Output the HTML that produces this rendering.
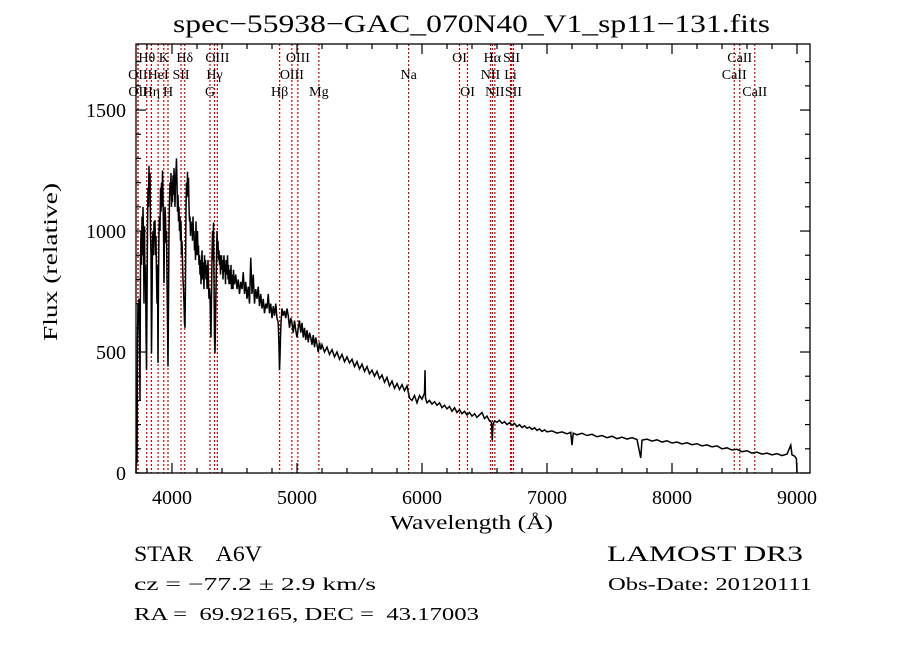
<!DOCTYPE html>
<html><head><meta charset="utf-8"><style>
html,body{margin:0;padding:0;background:#fff;width:900px;height:649px;overflow:hidden}
svg{display:block;font-family:"Liberation Serif","DejaVu Serif",serif}
text{white-space:pre}
</style></head><body>
<svg id="chart" width="900" height="649" viewBox="0 0 900 649" xmlns="http://www.w3.org/2000/svg" xml:space="preserve">
<text x="173" y="32" font-size="25" textLength="597" lengthAdjust="spacingAndGlyphs">spec−55938−GAC_070N40_V1_sp11−131.fits</text>
<g id="lines"></g>
<g id="labels"></g>
<path id="spec" fill="none" stroke="#000" stroke-width="1.5"/>
<g id="ticks"></g>
<rect x="136" y="44" width="674" height="429" fill="none" stroke="#000" stroke-width="1.3"/>
<text x="390" y="529" font-size="20" textLength="163" lengthAdjust="spacingAndGlyphs">Wavelength (Å)</text>
<text transform="translate(57,341) rotate(-90)" font-size="20" textLength="158" lengthAdjust="spacingAndGlyphs">Flux (relative)</text>
<text x="134" y="561" font-size="22" textLength="128" lengthAdjust="spacingAndGlyphs">STAR    A6V</text>
<text x="607" y="561" font-size="22" textLength="196" lengthAdjust="spacingAndGlyphs">LAMOST DR3</text>
<text x="134" y="590" font-size="18" textLength="242" lengthAdjust="spacingAndGlyphs">cz = −77.2 ± 2.9 km/s</text>
<text x="608" y="590" font-size="18" textLength="204" lengthAdjust="spacingAndGlyphs">Obs-Date: 20120111</text>
<text x="134" y="620" font-size="18" textLength="345" lengthAdjust="spacingAndGlyphs">RA =  69.92165, DEC =  43.17003</text>
</svg>
<script>
const wavelengths=[3712,3716,3720,3724,3728,3732,3736,3740,3744,3748,3752,3756,3760,3764,3768,3772,3776,3780,3784,3788,3792,3796,3800,3804,3808,3812,3816,3820,3824,3828,3832,3836,3840,3844,3848,3852,3856,3860,3864,3868,3872,3876,3880,3884,3888,3892,3896,3900,3904,3908,3912,3916,3920,3924,3928,3932,3936,3940,3944,3948,3952,3956,3960,3964,3968,3972,3976,3980,3984,3988,3992,3996,4000,4004,4008,4012,4016,4020,4024,4028,4032,4036,4040,4044,4048,4052,4056,4060,4064,4068,4072,4076,4080,4084,4088,4092,4096,4100,4104,4108,4112,4116,4120,4124,4128,4132,4136,4140,4144,4148,4152,4156,4160,4164,4168,4172,4176,4180,4184,4188,4192,4196,4200,4204,4208,4212,4216,4220,4224,4228,4232,4236,4240,4244,4248,4252,4256,4260,4264,4268,4272,4276,4280,4284,4288,4292,4296,4300,4304,4308,4312,4316,4320,4324,4328,4332,4336,4340,4344,4348,4352,4356,4360,4364,4368,4372,4376,4380,4384,4388,4392,4396,4400,4404,4408,4412,4416,4420,4424,4428,4432,4436,4440,4444,4448,4452,4456,4460,4464,4468,4472,4476,4480,4484,4488,4492,4496,4500,4510,4520,4530,4540,4550,4560,4570,4580,4590,4600,4610,4620,4630,4640,4650,4660,4670,4680,4690,4700,4710,4720,4730,4740,4750,4760,4770,4780,4790,4800,4810,4820,4830,4840,4850,4856,4860,4864,4868,4872,4880,4890,4900,4910,4920,4930,4940,4950,4960,4970,4980,4990,5000,5010,5020,5030,5040,5050,5060,5070,5080,5090,5100,5110,5120,5130,5140,5150,5160,5170,5180,5190,5200,5220,5240,5260,5280,5300,5320,5340,5360,5380,5400,5420,5440,5460,5480,5500,5520,5540,5560,5580,5600,5620,5640,5660,5680,5700,5720,5740,5760,5780,5800,5820,5840,5860,5880,5900,5920,5940,5960,5980,6000,6020,6024,6028,6040,6060,6080,6100,6120,6140,6160,6180,6200,6220,6240,6260,6280,6300,6320,6340,6360,6380,6400,6420,6440,6460,6480,6500,6520,6540,6556,6562,6568,6580,6600,6620,6640,6660,6680,6700,6720,6740,6760,6780,6800,6820,6840,6860,6880,6900,6920,6940,6960,6980,7000,7040,7080,7120,7160,7190,7200,7210,7240,7280,7320,7360,7400,7440,7480,7520,7560,7600,7640,7680,7720,7750,7760,7800,7840,7880,7920,7960,8000,8040,8080,8120,8160,8200,8240,8280,8320,8360,8400,8440,8480,8520,8560,8600,8640,8680,8720,8760,8800,8840,8880,8920,8950,8960,8980,8995,9000];
const fluxes=[0,150,40,550,700,620,720,560,300,880,1000,860,1060,900,1100,980,700,1020,780,860,600,425,700,1000,1180,1100,1270,1150,1240,1000,900,495,700,960,1000,900,1040,960,1045,900,980,820,700,860,455,800,1000,1060,1000,1180,1080,1200,1100,1250,1150,1000,785,1000,1100,1060,950,1000,800,620,440,700,1000,1120,1200,1150,1240,1100,1200,1120,1230,1150,1260,1180,1100,1200,1250,1300,1200,1080,1150,1040,1100,1000,1060,960,1040,900,960,880,800,760,700,620,600,800,1100,1200,1140,1245,1150,1220,1100,1040,1060,980,1040,1000,1030,960,1060,980,1000,920,960,880,1040,900,960,1000,900,940,860,900,820,880,780,860,920,800,870,820,760,900,830,880,800,860,760,820,880,780,720,760,730,640,560,730,900,1000,880,1035,800,560,495,620,760,880,1000,940,960,880,920,860,900,820,870,900,840,880,800,860,900,830,860,780,880,820,840,900,800,860,780,840,820,780,860,760,800,820,760,840,800,780,820,760,800,740,790,760,830,740,790,720,770,700,890,740,820,700,760,720,770,690,740,680,720,660,700,680,740,660,700,640,690,650,700,640,620,520,425,480,560,620,680,650,670,640,680,650,600,640,620,580,630,590,560,600,630,580,620,560,600,550,590,540,580,560,530,570,520,560,530,500,540,510,530,500,520,490,510,480,500,470,490,460,480,455,470,440,460,430,450,420,440,410,425,400,420,390,405,375,395,360,380,350,370,345,365,340,360,310,300,320,290,320,305,330,425,310,290,300,285,295,280,290,270,280,265,275,255,270,250,262,245,255,240,250,235,245,230,240,250,225,235,215,210,136,200,215,210,218,205,212,200,208,198,205,192,200,188,195,185,190,180,187,176,182,172,178,170,174,165,170,162,168,115,165,158,164,155,160,150,155,146,152,142,148,140,146,138,62,136,140,132,137,128,133,124,128,120,125,117,121,112,116,108,112,100,104,95,98,88,92,82,86,78,82,75,80,72,78,115,75,70,60,0];
const lineWaves=[3727,3729,3798,3835,3889,3934,3968,4072,4102,4304,4340,4363,4861,4959,5007,5175,5893,6300,6364,6548,6563,6583,6708,6716,6731,8498,8542,8662];
const lineNames=["OII","OII","Hθ","Hη","HeI","K","H","SII","Hδ","G","Hγ","OIII","Hβ","OIII","OIII","Mg","Na","OI","OI","NII","Hα","NII","Li","SII","SII","CaII","CaII","CaII"];
const lineRows=[2,3,1,3,2,1,3,2,1,3,2,1,3,2,1,3,2,1,3,2,1,3,2,1,3,2,1,3];
const xTickLabels=[4000,5000,6000,7000,8000,9000];
const yTickLabels=[0,500,1000,1500];

const NS="http://www.w3.org/2000/svg";
const L=136,R=810,T=44,B=473,XMIN=3712,XMAX=9104,YMIN=0,YMAX=1773;
const xs=w=>L+(w-XMIN)/(XMAX-XMIN)*(R-L);
const ys=v=>B-(v-YMIN)/(YMAX-YMIN)*(B-T);
function mk(tag,at,parent){const e=document.createElementNS(NS,tag);for(const k in at)e.setAttribute(k,at[k]);parent.appendChild(e);return e;}

let d="";
for(let i=0;i<wavelengths.length;i++){d+=(i?"L":"M")+xs(wavelengths[i]).toFixed(2)+","+Math.min(B,ys(fluxes[i])).toFixed(2);}
document.getElementById("spec").setAttribute("d",d);

const lg=document.getElementById("lines"),lb=document.getElementById("labels");
const rowY=[0,62,79,96];
for(let i=0;i<lineWaves.length;i++){
  const x=xs(lineWaves[i]);
  const ln=mk("line",{x1:x,x2:x,y1:T,y2:B,stroke:"#cc0000","stroke-width":1.2,"stroke-dasharray":"2,2"},lg);
  
  
  const t=mk("text",{x:x,y:rowY[lineRows[i]],"text-anchor":"middle","font-size":14},lb);
  t.textContent=lineNames[i];
  
  
}

const tg=document.getElementById("ticks");
for(let w=3800;w<=9100;w+=200){
  const x=xs(w),len=(w%1000===0)?10:5;
  const a=mk("line",{x1:x,x2:x,y1:B,y2:B-len,stroke:"#000","stroke-width":1.2},tg);
  
  
  const b=mk("line",{x1:x,x2:x,y1:T,y2:T+len,stroke:"#000","stroke-width":1.2},tg);
  
  
}
for(let v=0;v<=1700;v+=100){
  const y=ys(v),len=(v%500===0)?10:5;
  const a=mk("line",{x1:L,x2:L+len,y1:y,y2:y,stroke:"#000","stroke-width":1.2},tg);
  
  
  const b=mk("line",{x1:R,x2:R-len,y1:y,y2:y,stroke:"#000","stroke-width":1.2},tg);
  
  
}
xTickLabels.forEach(w=>{
  const t=mk("text",{x:xs(w),y:504,"text-anchor":"middle","font-size":20},tg);
  t.textContent=w;
  
  
});
yTickLabels.forEach(v=>{
  const t=mk("text",{x:126,y:ys(v)+7,"text-anchor":"end","font-size":20},tg);
  t.textContent=v;
  
  
});
</script>
</body></html>
